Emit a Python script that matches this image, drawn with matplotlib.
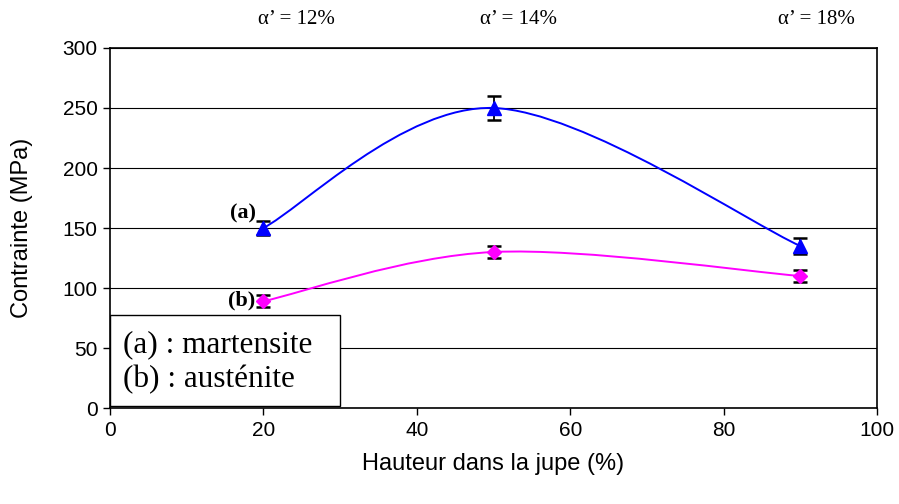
import numpy as np
import matplotlib.pyplot as plt
from matplotlib.path import Path
from matplotlib.patches import PathPatch, Rectangle

# Hauteur dans la jupe (%) et contraintes mesurées
hauteur = [20, 50, 90]
martensite = [150, 250, 135]
err_martensite = [6, 10, 7]
austenite = [89, 130, 110]
err_austenite = [5, 5, 5]
alpha_labels = ["\u03b1\u2019 = 12%", "\u03b1\u2019 = 14%", "\u03b1\u2019 = 18%"]

plt.rcParams['font.family'] = ['Liberation Sans', 'DejaVu Sans']
serif = ['Liberation Serif', 'DejaVu Serif']


def smooth_path(xs, ys):
    # courbe lissée type tableur : segments de Bézier cubiques
    pts = np.column_stack([xs, ys]).astype(float)
    n = len(pts)
    verts = [pts[0]]
    codes = [Path.MOVETO]
    for i in range(n - 1):
        p_prev = pts[i - 1] if i > 0 else pts[i]
        p_next = pts[i + 2] if i + 2 < n else pts[i + 1]
        c1 = pts[i] + (pts[i + 1] - p_prev) / 6
        c2 = pts[i + 1] - (p_next - pts[i]) / 6
        verts += [c1, c2, pts[i + 1]]
        codes += [Path.CURVE4] * 3
    return Path(verts, codes)


fig = plt.figure(figsize=(8.99, 5.04), dpi=100)
ax = fig.add_axes([110 / 899, 1 - 408 / 504, 767 / 899, 360 / 504])

ax.set_xlim(0, 100)
ax.set_ylim(0, 300)
ax.set_xticks(range(0, 101, 20))
ax.set_yticks(range(0, 301, 50))
ax.yaxis.grid(True, color='black', linewidth=0.8)
ax.set_axisbelow(True)
ax.tick_params(labelsize=15, direction='out', length=5, width=1, pad=4)
for s in ax.spines.values():
    s.set_color('black')
    s.set_linewidth(1.2)

ax.add_patch(PathPatch(smooth_path(hauteur, martensite), fill=False,
                       edgecolor='#0000FF', linewidth=1.4, zorder=3))
ax.add_patch(PathPatch(smooth_path(hauteur, austenite), fill=False,
                       edgecolor='#FF00FF', linewidth=1.4, zorder=3))

ax.errorbar(hauteur, martensite, yerr=err_martensite, fmt='^', color='#0000FF',
            markersize=10, ecolor='black', elinewidth=1.3, capsize=5, capthick=1.8, zorder=4)
ax.errorbar(hauteur, austenite, yerr=err_austenite, fmt='D', color='#FF00FF',
            markersize=7.5, ecolor='black', elinewidth=1.3, capsize=5, capthick=1.8, zorder=4)

ax.text(hauteur[0] - 1.0, martensite[0] + 12, '(a)', ha='right', va='center',
        family=serif, fontweight='bold', fontsize=16)
ax.text(hauteur[0] - 1.0, austenite[0] + 1, '(b)', ha='right', va='center',
        family=serif, fontweight='bold', fontsize=16)

for xc, lab in zip([296, 519, 816], alpha_labels):
    fig.text(xc / 899, 1 - 20 / 504, lab, ha='center', va='center',
             family=serif, fontsize=15)

ax.set_xlabel('Hauteur dans la jupe (%)', fontsize=17)
ax.set_ylabel('Contrainte (MPa)', fontsize=17)
ax.xaxis.set_label_coords(0.5, -0.125)
ax.yaxis.set_label_coords(-0.1, 0.5)

# encadré de légende
ax.add_patch(Rectangle((0.0, 0.0056), 0.2999, 0.2524, transform=ax.transAxes,
                       facecolor='white', edgecolor='black', linewidth=1.0, zorder=5))
ax.text(0.017, 0.175, '(a) : martensite', transform=ax.transAxes, ha='left', va='center',
        family=serif, fontsize=22.5, zorder=6)
ax.text(0.017, 0.078, '(b) : austénite', transform=ax.transAxes, ha='left', va='center',
        family=serif, fontsize=22.5, zorder=6)

fig.savefig('out.png', dpi=100)
